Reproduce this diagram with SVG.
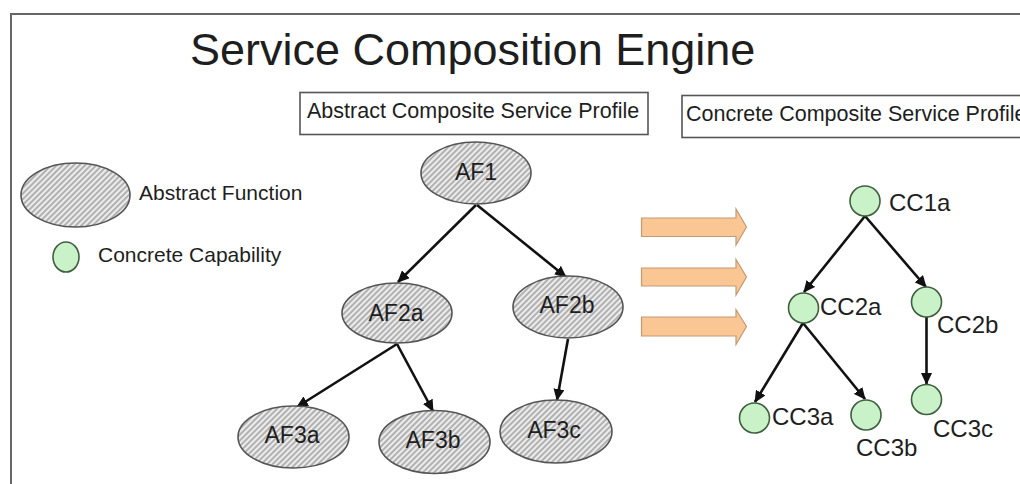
<svg xmlns="http://www.w3.org/2000/svg" width="1020" height="484" viewBox="0 0 1020 484">
<style>
text{font-family:"Liberation Sans",Arial,sans-serif;fill:#1e1e1e}
.af{fill:url(#hatch);stroke:#555;stroke-width:1.6}
.cc{fill:#c9f2c9;stroke:#3f5f3f;stroke-width:1.6}
.lbl{font-size:23px;text-anchor:middle}
.cl{font-size:24px}
.edge{stroke:#111;stroke-width:2.6;fill:none;marker-end:url(#ah)}
.blk{fill:#fac693;stroke:#c49a74;stroke-width:1.2}
.box{fill:#fff;stroke:#555;stroke-width:1.6}
</style>
<defs>
<pattern id="hatch" patternUnits="userSpaceOnUse" width="4" height="4" patternTransform="rotate(45)">
<rect width="4" height="4" fill="#ececec"/>
<line x1="1" y1="0" x2="1" y2="4" stroke="#8a8a8a" stroke-width="1.2"/>
</pattern>
<marker id="ah" markerWidth="12" markerHeight="11" refX="11" refY="5.5" orient="auto" markerUnits="userSpaceOnUse">
<path d="M0 0 L12 5.5 L0 11 Z" fill="#111"/>
</marker>
</defs>
<rect width="1020" height="484" fill="#fff"/>
<path d="M1030 14 H11 V500" fill="none" stroke="#666" stroke-width="2"/>
<text x="190" y="65" font-size="45">Service Composition Engine</text>

<g id="abstract-profile">
<rect class="box" x="300" y="92.5" width="348" height="42"/>
<text x="307" y="118" font-size="21.5">Abstract Composite Service Profile</text>
</g>
<g id="concrete-profile">
<rect class="box" x="682" y="95.5" width="360" height="42"/>
<text x="686" y="121" font-size="21.5">Concrete Composite Service Profile</text>
</g>

<g id="legend-abstract">
<ellipse class="af" cx="75.5" cy="195" rx="54.5" ry="32"/>
<text x="139" y="200" font-size="21">Abstract Function</text>
</g>
<g id="legend-concrete">
<ellipse class="cc" cx="66" cy="257" rx="13" ry="15"/>
<text x="98" y="262" font-size="21">Concrete Capability</text>
</g>

<g id="connectors">
<line class="edge" x1="476" y1="205" x2="398" y2="282"/>
<line class="edge" x1="477" y1="205" x2="566" y2="277"/>
<line class="edge" x1="397" y1="344" x2="297" y2="407"/>
<line class="edge" x1="397" y1="344" x2="433" y2="411"/>
<line class="edge" x1="568" y1="339" x2="557" y2="400"/>
<line class="edge" x1="865" y1="216" x2="804" y2="292"/>
<line class="edge" x1="865" y1="216" x2="926" y2="287"/>
<line class="edge" x1="803" y1="323" x2="755" y2="402"/>
<line class="edge" x1="803" y1="323" x2="865" y2="399"/>
<line class="edge" x1="926.5" y1="317" x2="926.5" y2="384"/>
</g>

<g id="transform-arrows">
<path class="blk" d="M641.5 218 H736 V209 L746.5 227 L736 245 V236.5 H641.5 Z"/>
<path class="blk" d="M641.5 268 H736 V259.5 L746.5 277 L736 295 V286 H641.5 Z"/>
<path class="blk" d="M641.5 317 H736 V309.5 L746.5 326.5 L736 344.5 V336 H641.5 Z"/>
</g>

<g id="AF1"><ellipse class="af" cx="476" cy="173" rx="55" ry="31"/><text class="lbl" x="476" y="180">AF1</text></g>
<g id="AF2a"><ellipse class="af" cx="397" cy="313" rx="55" ry="30"/><text class="lbl" x="396" y="321">AF2a</text></g>
<g id="AF2b"><ellipse class="af" cx="568" cy="307" rx="55" ry="31"/><text class="lbl" x="567" y="313">AF2b</text></g>
<g id="AF3a"><ellipse class="af" cx="293.5" cy="437" rx="55.5" ry="31"/><text class="lbl" x="292" y="443">AF3a</text></g>
<g id="AF3b"><ellipse class="af" cx="434.5" cy="442" rx="55.5" ry="31.5"/><text class="lbl" x="433" y="448">AF3b</text></g>
<g id="AF3c"><ellipse class="af" cx="556" cy="431.5" rx="56" ry="31.5"/><text class="lbl" x="554" y="438">AF3c</text></g>

<g id="CC1a"><circle class="cc" cx="865" cy="201" r="15"/><text class="cl" x="889" y="211">CC1a</text></g>
<g id="CC2a"><circle class="cc" cx="803.5" cy="308" r="15"/><text class="cl" x="820" y="315">CC2a</text></g>
<g id="CC2b"><circle class="cc" cx="926.5" cy="302" r="15"/><text class="cl" x="937" y="333">CC2b</text></g>
<g id="CC3a"><circle class="cc" cx="754.5" cy="418" r="15"/><text class="cl" x="772" y="425">CC3a</text></g>
<g id="CC3b"><circle class="cc" cx="866" cy="415" r="15"/><text class="cl" x="856" y="456">CC3b</text></g>
<g id="CC3c"><circle class="cc" cx="926.5" cy="399.5" r="15"/><text class="cl" x="933" y="437">CC3c</text></g>
</svg>
